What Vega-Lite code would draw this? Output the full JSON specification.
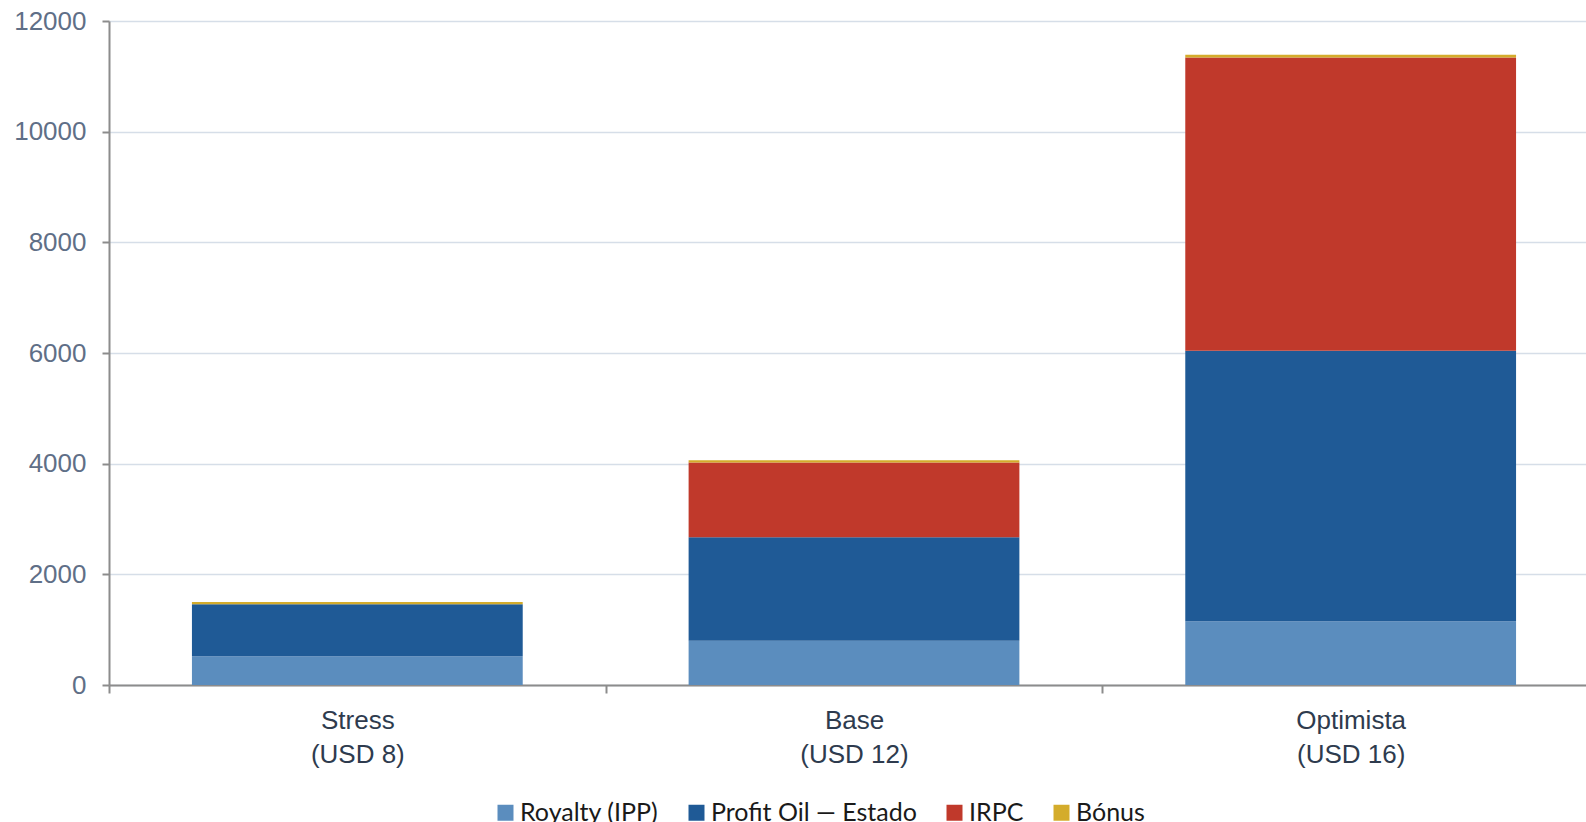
{
  "$schema": "https://vega.github.io/schema/vega-lite/v6.json",
  "width": 1490,
  "height": 664,
  "autosize": {"type": "none"},
  "padding": {"left": 109, "top": 21, "right": 0, "bottom": 137},
  "background": "white",
  "data": {
    "values": [
      {"cenario": "Stress|(USD 8)", "componente": "Royalty (IPP)", "k": 1, "valor": 520},
      {"cenario": "Stress|(USD 8)", "componente": "Profit Oil — Estado", "k": 2, "valor": 940},
      {"cenario": "Stress|(USD 8)", "componente": "IRPC", "k": 3, "valor": 0},
      {"cenario": "Stress|(USD 8)", "componente": "Bónus", "k": 4, "valor": 40},
      {"cenario": "Base|(USD 12)", "componente": "Royalty (IPP)", "k": 1, "valor": 800},
      {"cenario": "Base|(USD 12)", "componente": "Profit Oil — Estado", "k": 2, "valor": 1870},
      {"cenario": "Base|(USD 12)", "componente": "IRPC", "k": 3, "valor": 1350},
      {"cenario": "Base|(USD 12)", "componente": "Bónus", "k": 4, "valor": 40},
      {"cenario": "Optimista|(USD 16)", "componente": "Royalty (IPP)", "k": 1, "valor": 1150},
      {"cenario": "Optimista|(USD 16)", "componente": "Profit Oil — Estado", "k": 2, "valor": 4890},
      {"cenario": "Optimista|(USD 16)", "componente": "IRPC", "k": 3, "valor": 5300},
      {"cenario": "Optimista|(USD 16)", "componente": "Bónus", "k": 4, "valor": 50}
    ]
  },
  "mark": {"type": "bar", "width": {"band": 0.666}},
  "encoding": {
    "x": {
      "field": "cenario",
      "type": "nominal",
      "sort": null,
      "scale": {"paddingInner": 0, "paddingOuter": 0},
      "axis": {
        "title": null,
        "labelAngle": 0,
        "labelExpr": "split(datum.label, '|')",
        "labelFont": "Liberation Sans",
        "labelFontSize": 26,
        "labelColor": "#2E3B4E",
        "labelPadding": 14,
        "labelLineHeight": 34,
        "tickBand": "extent",
        "ticks": true,
        "tickSize": 8,
        "tickColor": "#8C8C8C",
        "tickWidth": 2,
        "domainColor": "#8C8C8C",
        "domainWidth": 2,
        "grid": false
      }
    },
    "y": {
      "field": "valor",
      "type": "quantitative",
      "stack": "zero",
      "scale": {"domain": [0, 12000], "nice": false},
      "axis": {
        "title": null,
        "values": [0, 2000, 4000, 6000, 8000, 10000, 12000],
        "format": "d",
        "labelFont": "Liberation Sans",
        "labelFontSize": 26,
        "labelColor": "#5F6F87",
        "labelPadding": 16,
        "tickSize": 7,
        "tickColor": "#8C8C8C",
        "tickWidth": 2,
        "domainColor": "#8C8C8C",
        "domainWidth": 2,
        "grid": true,
        "gridColor": "#D6DEE8",
        "gridWidth": 1.5
      }
    },
    "color": {
      "field": "componente",
      "type": "nominal",
      "scale": {
        "domain": ["Royalty (IPP)", "Profit Oil — Estado", "IRPC", "Bónus"],
        "range": ["#5B8DBE", "#1F5A96", "#C0392B", "#D4AC2B"]
      },
      "legend": {
        "title": null,
        "orient": "none",
        "legendX": 384,
        "legendY": 779,
        "direction": "horizontal",
        "symbolType": "square",
        "symbolSize": 256,
        "symbolStrokeWidth": 0,
        "labelFont": "Lato",
        "labelFontSize": 25,
        "labelLimit": 0,
        "labelColor": "#1A1A1A",
        "labelOffset": 2,
        "columnPadding": 25
      }
    },
    "order": {"field": "k", "type": "quantitative", "sort": "ascending"}
  },
  "config": {"view": {"stroke": null}}
}
